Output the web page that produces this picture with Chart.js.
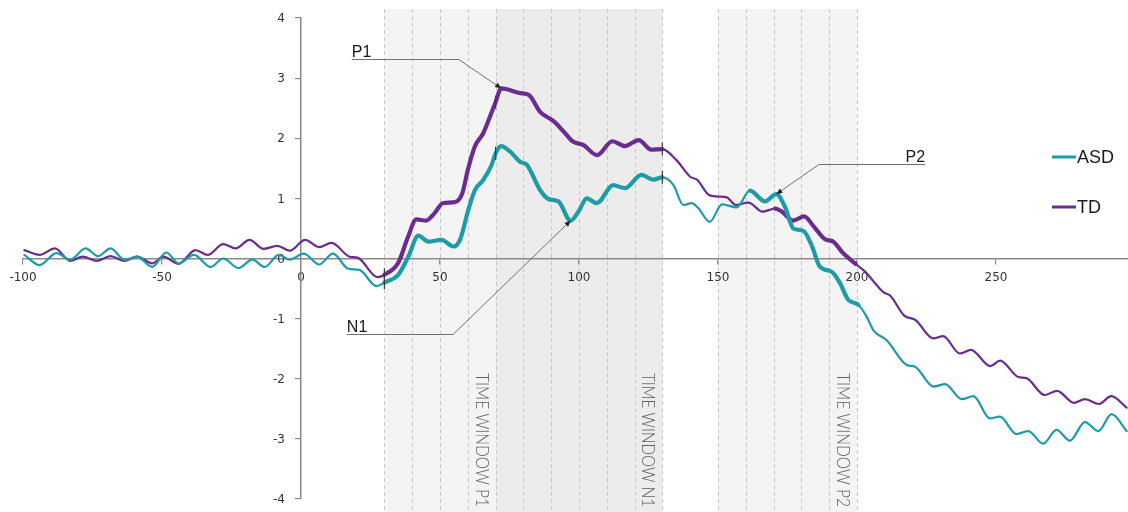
<!DOCTYPE html>
<html>
<head>
<meta charset="utf-8">
<script src="https://cdn.jsdelivr.net/npm/chart.js@4.4.1/dist/chart.umd.min.js"></script>
<style>
  html, body { margin: 0; padding: 0; background: #ffffff; }
  #wrap { width: 1128px; height: 512px; }
</style>
</head>
<body>
<div id="wrap"><canvas id="erp" width="1128" height="512"></canvas></div>
<script>
// Grand-average waveforms (µV) against time (ms), sampled at peaks, troughs and bends.
const tdTime = [-99.5,-94,-88.5,-83,-78.5,-73.5,-68.5,-63.5,-59,-53.5,-49.5,-44,-38,-33.5,-28,-23.5,-18.5,-13.5,-8.5,-4,1.5,6.5,11,17.5,20.5,27.5,30,35,38.5,41.5,45,48,51,55.5,58,60,62.5,65.5,68,70,72,79,82,86,91,94.5,98,101.5,106.5,112,116.5,121.5,126,130,135,140,142.5,147,150.5,153,156.5,161,166,170.5,173,177,181,184.5,188.5,191.5,195,199.5,203,206.5,209.5,212,217,221,227.5,231,237,241,248,251.5,258,261,267.5,272,278,282,287,291.5,297];
const tdAmp = [0.14,0.06,0.17,-0.04,0.03,-0.04,0.04,-0.04,0.03,-0.08,0.03,-0.09,0.14,0.06,0.24,0.17,0.31,0.16,0.21,0.13,0.31,0.19,0.26,0.03,0.01,-0.31,-0.27,-0.07,0.36,0.65,0.63,0.75,0.92,0.94,1.08,1.47,1.86,2.08,2.36,2.6,2.83,2.75,2.72,2.44,2.28,2.11,1.94,1.89,1.72,1.95,1.87,1.97,1.81,1.82,1.64,1.36,1.31,1.05,1.03,1.02,0.89,0.93,0.78,0.83,0.78,0.63,0.70,0.53,0.32,0.28,0.09,-0.09,-0.22,-0.41,-0.56,-0.62,-0.95,-1.02,-1.33,-1.29,-1.58,-1.52,-1.79,-1.70,-1.97,-1.99,-2.27,-2.20,-2.40,-2.34,-2.42,-2.29,-2.48];

const asdTime = [-99.5,-94,-88,-83,-77.5,-73,-68.5,-63.5,-59,-53.5,-48.5,-44,-38.5,-32.5,-28,-22.5,-17.5,-13,-8,-4,1,6.5,11.5,17,21,27.2,30,35,38.6,42.2,45.8,50.6,54.8,57.2,60.2,62.6,65.6,68.6,70,72,75.2,78.8,81.2,86,89,92.6,97,99.8,102.8,106.4,112.3,116.5,122.5,126.7,130,134,137.5,140.5,142.9,147,151.5,156.7,161.5,166.9,171,174.1,177.1,180.7,183.7,186.7,190.9,193.9,196.9,200.5,203.5,206,210.7,217.9,220.9,227.5,231.7,237.7,241.9,247.8,251.4,257.4,261.6,267,271.8,276.6,282,286.8,291.6,297];
const asdAmp = [0.06,-0.11,0.09,-0.02,0.17,0.04,0.17,-0.02,0.03,-0.14,0.10,-0.08,0.06,-0.14,0.0,-0.16,-0.02,-0.14,0.06,-0.02,0.08,-0.10,0.08,-0.17,-0.19,-0.46,-0.40,-0.27,0.03,0.38,0.28,0.31,0.20,0.31,0.81,1.14,1.31,1.56,1.75,1.87,1.78,1.61,1.56,1.14,0.99,0.95,0.63,0.78,1.0,0.92,1.22,1.17,1.39,1.31,1.35,1.22,0.89,0.92,0.84,0.61,0.90,0.85,1.13,0.95,1.07,0.86,0.50,0.46,0.22,-0.14,-0.22,-0.41,-0.69,-0.77,-0.97,-1.20,-1.36,-1.77,-1.80,-2.13,-2.09,-2.34,-2.29,-2.66,-2.63,-2.92,-2.87,-3.08,-2.85,-3.03,-2.72,-2.87,-2.59,-2.87];

const xTickValues = [-100, -50, 0, 50, 100, 150, 200, 250];
const yTickValues = [-4, -3, -2, -1, 0, 1, 2, 3, 4];

// Analysis windows (ms) and the 10 ms guide lines inside them.
const windowNames = ['TIME WINDOW P1', 'TIME WINDOW N1', 'TIME WINDOW P2'];
const windowStart = [30, 70, 150];
const windowEnd = [70, 130, 200];
const guideTimes = [30, 40, 50, 60, 70, 80, 90, 100, 110, 120, 130, 150, 160, 170, 180, 190, 200];

// Times where the waveforms carry a window boundary mark.
const markTimes = [30, 70, 130];

const COLORS = { ASD: '#1d9ca7', TD: '#6b2c8f' };
const WINDOW_FILL = ['#f4f4f4', '#ececec', '#f4f4f4'];

// Stretches drawn heavier on each waveform (ms).
const heavySpans = { ASD: [[30, 130], [160, 200]], TD: [[30, 130], [170, 200]] };

// Component call-outs: label anchor and elbow in data units, arrow tip on a waveform sample.
const callouts = [
  { text: 'P1', series: 'TD', at: 72, lx: 18.3, ly: 3.31, ex: 56.8, align: 'left' },
  { text: 'N1', series: 'ASD', at: 97, lx: 16.5, ly: -1.26, ex: 54.7, align: 'left' },
  { text: 'P2', series: 'ASD', at: 171, lx: 224.5, ly: 1.57, ex: 186.3, align: 'right' }
];

const toPoints = (t, v) => t.map((x, i) => ({ x: x, y: v[i] }));
const seriesData = { ASD: toPoints(asdTime, asdAmp), TD: toPoints(tdTime, tdAmp) };

function inSpans(spans, x) {
  return spans.some(s => x >= s[0] && x <= s[1]);
}

function waveDataset(name) {
  return {
    label: name,
    data: seriesData[name],
    borderColor: COLORS[name],
    backgroundColor: COLORS[name],
    borderWidth: 2.2,
    borderCapStyle: 'round',
    borderJoinStyle: 'round',
    cubicInterpolationMode: 'monotone',
    fill: false,
    pointStyle: 'line',
    pointRotation: 90,
    pointBorderColor: '#3a3a3a',
    pointBorderWidth: 1.2,
    pointRadius: ctx => (ctx.raw && markTimes.includes(ctx.raw.x)) ? 6.5 : 0,
    pointHoverRadius: 0,
    segment: {
      borderWidth: ctx => inSpans(heavySpans[name], (ctx.p0.parsed.x + ctx.p1.parsed.x) / 2) ? 4.2 : 2.2
    }
  };
}

const tickFont = { family: '"DejaVu Sans", Verdana, sans-serif', size: 12 };

// Shaded analysis windows with dashed guides and their rotated captions.
const windowPlugin = {
  id: 'windows',
  beforeDraw(chart) {
    const { ctx, chartArea, scales } = chart;
    const top = chartArea.top - 9;
    const bottom = chart.height;
    ctx.save();
    windowStart.forEach((s, i) => {
      const x0 = scales.x.getPixelForValue(s);
      const x1 = scales.x.getPixelForValue(windowEnd[i]);
      ctx.fillStyle = WINDOW_FILL[i];
      ctx.fillRect(x0, top, x1 - x0, bottom - top);
    });
    ctx.strokeStyle = '#c8c8c8';
    ctx.lineWidth = 1;
    ctx.setLineDash([4, 3]);
    guideTimes.forEach(t => {
      const x = Math.round(scales.x.getPixelForValue(t)) + 0.5;
      ctx.beginPath();
      ctx.moveTo(x, top);
      ctx.lineTo(x, bottom);
      ctx.stroke();
    });
    ctx.setLineDash([]);
    ctx.fillStyle = '#606060';
    ctx.font = '300 17px Lato';
    ctx.textAlign = 'left';
    ctx.textBaseline = 'alphabetic';
    windowNames.forEach((name, i) => {
      const xe = scales.x.getPixelForValue(windowEnd[i]);
      ctx.save();
      ctx.translate(xe - 20, 373);
      ctx.rotate(Math.PI / 2);
      ctx.fillText(name, 0, 0, 134);
      ctx.restore();
    });
    ctx.restore();
  },
  // value labels of the vertical axis, left of the axis line and beneath the waveforms
  beforeDatasetsDraw(chart) {
    const { ctx, scales } = chart;
    const axisX = scales.x.getPixelForValue(0);
    ctx.save();
    ctx.font = tickFont.size + 'px ' + tickFont.family;
    ctx.fillStyle = '#333';
    ctx.textAlign = 'right';
    ctx.textBaseline = 'middle';
    scales.y.ticks.forEach(t => {
      ctx.fillText(String(t.value), axisX - 16, scales.y.getPixelForValue(t.value) + 1);
    });
    ctx.restore();
  }
};

// Leader lines with arrowheads naming the ERP components, plus the legend.
const annotationPlugin = {
  id: 'callouts',
  afterDatasetsDraw(chart) {
    const { ctx, scales } = chart;
    ctx.save();
    callouts.forEach(c => {
      const pt = seriesData[c.series].find(p => p.x === c.at);
      const tx = scales.x.getPixelForValue(pt.x);
      const ty = scales.y.getPixelForValue(pt.y);
      const lx = scales.x.getPixelForValue(c.lx);
      const ly = Math.round(scales.y.getPixelForValue(c.ly)) + 0.5;
      const ex = scales.x.getPixelForValue(c.ex);
      ctx.strokeStyle = '#707070';
      ctx.lineWidth = 1;
      ctx.beginPath();
      ctx.moveTo(lx, ly);
      ctx.lineTo(ex, ly);
      ctx.lineTo(tx, ty);
      ctx.stroke();
      // arrowhead
      const ang = Math.atan2(ty - ly, tx - ex);
      const len = 6, half = 2.6;
      ctx.fillStyle = '#1e1e1e';
      ctx.beginPath();
      ctx.moveTo(tx, ty);
      ctx.lineTo(tx - len * Math.cos(ang) + half * Math.sin(ang), ty - len * Math.sin(ang) - half * Math.cos(ang));
      ctx.lineTo(tx - len * Math.cos(ang) - half * Math.sin(ang), ty - len * Math.sin(ang) + half * Math.cos(ang));
      ctx.closePath();
      ctx.fill();
      ctx.fillStyle = '#1a1a1a';
      ctx.font = '16px "Liberation Sans", Arial, sans-serif';
      ctx.textBaseline = 'alphabetic';
      ctx.textAlign = c.align;
      ctx.fillText(c.text, lx, ly - 3);
    });

    // legend
    const entries = [['ASD', 157], ['TD', 207]];
    ctx.font = '18px "Liberation Sans", Arial, sans-serif';
    ctx.textAlign = 'left';
    ctx.textBaseline = 'middle';
    entries.forEach(([name, y]) => {
      ctx.strokeStyle = COLORS[name];
      ctx.lineWidth = 3;
      ctx.beginPath();
      ctx.moveTo(1052, y);
      ctx.lineTo(1076, y);
      ctx.stroke();
      ctx.fillStyle = '#1a1a1a';
      ctx.fillText(name, 1077, y + 1);
    });
    ctx.restore();
  }
};

const axisStyle = {
  grid: { drawOnChartArea: false, drawTicks: true, tickLength: 5, color: '#8a8a8a', lineWidth: 1.2 },
  border: { display: true, color: '#8a8a8a', width: 1.5 }
};

new Chart(document.getElementById('erp'), {
  type: 'line',
  data: { datasets: [waveDataset('ASD'), waveDataset('TD')] },
  options: {
    responsive: false,
    animation: false,
    devicePixelRatio: 1,
    layout: { padding: { left: 23, right: 0, top: 18, bottom: 13 } },
    plugins: { legend: { display: false }, tooltip: { enabled: false } },
    scales: {
      x: {
        type: 'linear', min: -100, max: 297.5, position: { y: 0 },
        afterBuildTicks: s => { s.ticks = xTickValues.map(v => ({ value: v })); },
        ticks: { font: tickFont, color: '#333', autoSkip: false, maxRotation: 0, padding: 7 },
        ...axisStyle
      },
      y: {
        type: 'linear', min: -4, max: 4, position: { x: 0 },
        afterBuildTicks: s => { s.ticks = yTickValues.map(v => ({ value: v })); },
        ticks: { display: false },
        ...axisStyle
      }
    }
  },
  plugins: [windowPlugin, annotationPlugin]
});
</script>
</body>
</html>
